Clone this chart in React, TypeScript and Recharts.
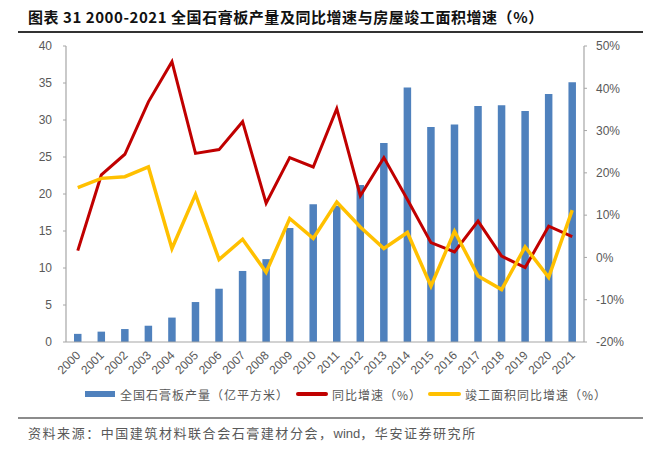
import React from 'react';
import { ComposedChart, Bar, Line, XAxis, YAxis } from 'recharts';

const years = ['2000','2001','2002','2003','2004','2005','2006','2007','2008','2009','2010','2011','2012','2013','2014','2015','2016','2017','2018','2019','2020','2021'];
const output = [1.1, 1.4, 1.75, 2.2, 3.3, 5.4, 7.2, 9.6, 11.2, 15.4, 18.6, 18.4, 21.2, 26.9, 34.4, 29.05, 29.4, 31.9, 32.0, 31.2, 33.5, 35.1];
const outputGrowth = [1.6, 19.5, 24.4, 36.8, 46.3, 24.6, 25.5, 32.1, 12.8, 23.6, 21.4, 35.2, 14.6, 23.6, 13.7, 3.5, 1.3, 8.6, 0.3, -2.4, 7.4, 4.9];
const completionGrowth = [16.5, 18.7, 19.1, 21.4, 2.1, 14.9, -0.5, 4.3, -3.5, 9.2, 4.5, 13.1, 7.2, 2.1, 5.9, -6.8, 6.2, -4.4, -7.6, 2.5, -4.7, 11.2];
const leftTicks = [0, 5, 10, 15, 20, 25, 30, 35, 40];
const rightTicks = [-20, -10, 0, 10, 20, 30, 40, 50];
const boundaryTicks = years.map((_, i) => i).concat([years.length]);

const data = years.map((y, i) => ({
  year: y,
  idx: i + 0.5,
  output: output[i],
  outputGrowth: outputGrowth[i],
  completionGrowth: completionGrowth[i],
}));

const BLUE = '#4f81bd';
const RED = '#c00000';
const YELLOW = '#ffc000';
const AXIS = '#a6a6a6';
const TEXT = '#595959';
const CJK = '"Noto Sans CJK SC", "Noto Sans", sans-serif';
const LATIN = '"Liberation Sans", Arial, sans-serif';

const XTick = (props: any) => {
  const { x, y, payload } = props;
  const ax = x + 3.5;
  const ay = y + 14;
  return (
    <text x={ax} y={ay} transform={`rotate(-45, ${ax}, ${ay})`} textAnchor="end" fill={TEXT} fontSize={12} fontFamily={LATIN}>
      {payload.value}
    </text>
  );
};

const legendText: React.CSSProperties = { fontSize: 12, color: TEXT, letterSpacing: 1, fontFamily: CJK, whiteSpace: 'nowrap' };

export default function App() {
  return (
    <div style={{ position: 'absolute', left: 0, top: 0, width: 658, height: 459, background: '#fff', overflow: 'hidden', fontFamily: CJK }}>
      <div style={{ position: 'absolute', left: 28, top: 7, fontSize: 15, fontWeight: 700, color: '#111', letterSpacing: 0.55, whiteSpace: 'nowrap', lineHeight: '20px' }}>
        图表 31 2000-2021 全国石膏板产量及同比增速与房屋竣工面积增速（%）
      </div>
      <div style={{ position: 'absolute', left: 18, top: 31, width: 625, height: 1.5, background: '#333' }} />

      <div style={{ position: 'absolute', left: 0, top: 0 }}>
        <ComposedChart width={658} height={459} data={data} margin={{ top: 46, right: 0, bottom: 77, left: 0 }}>
          <XAxis
            xAxisId="b"
            type="number"
            dataKey="idx"
            domain={[0, years.length]}
            allowDataOverflow
            ticks={boundaryTicks}
            tick={false}
            axisLine={false}
            tickLine={{ stroke: AXIS }}
            tickSize={4}
            height={0}
          />
          <XAxis
            dataKey="year"
            interval={0}
            tick={<XTick />}
            tickLine={false}
            tickSize={0}
            tickMargin={0}
            axisLine={{ stroke: AXIS, strokeWidth: 1.2 }}
            height={40}
          />
          <YAxis
            yAxisId="left"
            domain={[0, 40]}
            ticks={leftTicks}
            width={66}
            tickSize={3}
            tickMargin={11}
            axisLine={{ stroke: AXIS, strokeWidth: 1.2 }}
            tickLine={{ stroke: AXIS }}
            tick={{ fill: TEXT, fontSize: 12, fontFamily: LATIN }}
            allowDataOverflow
          />
          <YAxis
            yAxisId="right"
            orientation="right"
            domain={[-20, 50]}
            ticks={rightTicks}
            width={74}
            tickSize={3}
            tickMargin={9}
            axisLine={{ stroke: AXIS, strokeWidth: 1.2 }}
            tickLine={{ stroke: AXIS }}
            tick={{ fill: TEXT, fontSize: 12, fontFamily: LATIN }}
            tickFormatter={(v: number) => `${v}%`}
            allowDataOverflow
          />
          <Bar yAxisId="left" dataKey="output" fill={BLUE} barSize={7.5} isAnimationActive={false} />
          <Line yAxisId="right" type="linear" dataKey="outputGrowth" stroke={RED} strokeWidth={3} dot={false} activeDot={false} isAnimationActive={false} />
          <Line yAxisId="right" type="linear" dataKey="completionGrowth" stroke={YELLOW} strokeWidth={3.5} dot={false} activeDot={false} isAnimationActive={false} />
        </ComposedChart>
      </div>

      <div style={{ position: 'absolute', left: 85, top: 385, height: 18, display: 'flex', alignItems: 'center' }}>
        <div style={{ width: 30, height: 6, background: BLUE, marginRight: 5 }} />
        <span style={legendText}>全国石膏板产量（亿平方米）</span>
      </div>
      <div style={{ position: 'absolute', left: 296, top: 385, height: 18, display: 'flex', alignItems: 'center' }}>
        <div style={{ width: 32, height: 3.5, background: RED, borderRadius: 2, marginRight: 4 }} />
        <span style={legendText}>同比增速（%）</span>
      </div>
      <div style={{ position: 'absolute', left: 428, top: 385, height: 18, display: 'flex', alignItems: 'center' }}>
        <div style={{ width: 33, height: 3.5, background: YELLOW, borderRadius: 2, marginRight: 4 }} />
        <span style={legendText}>竣工面积同比增速（%）</span>
      </div>

      <div style={{ position: 'absolute', left: 18, top: 417, width: 625, height: 1.5, background: '#8c8c8c' }} />
      <div style={{ position: 'absolute', left: 28, top: 424, fontSize: 13, color: TEXT, letterSpacing: 1.55, whiteSpace: 'nowrap', lineHeight: '18px' }}>
        资料来源：中国建筑材料联合会石膏建材分会，<span style={{ fontFamily: LATIN, letterSpacing: 0 }}>wind</span>，华安证券研究所
      </div>
    </div>
  );
}
